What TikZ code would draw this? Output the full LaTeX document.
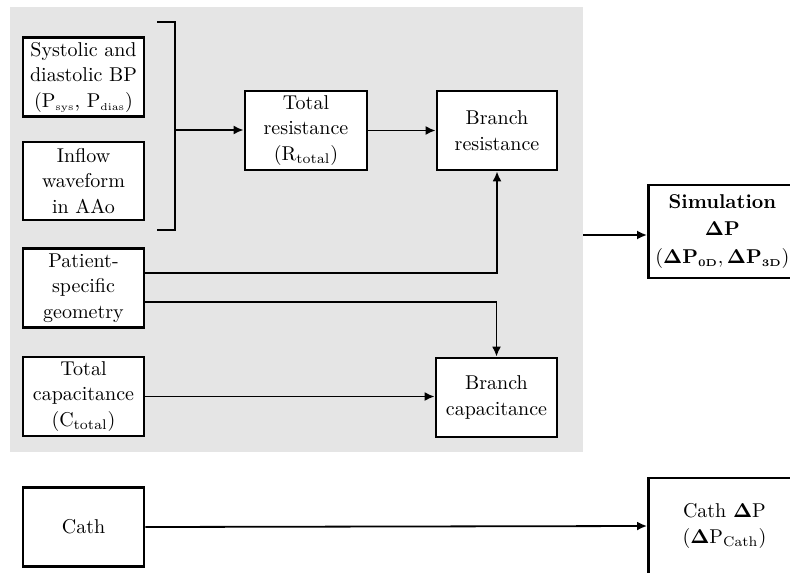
\documentclass[tikz,border=0pt]{standalone}
\usetikzlibrary{arrows.meta,calc}
\definecolor{bggray}{RGB}{229,229,229}
\begin{document}
\begin{tikzpicture}[x=0.5pt,y=-0.5pt,
  blk/.style={draw, line width=1.4pt, fill=white, align=center, inner sep=1pt,
    minimum width=60.5pt, minimum height=39.5pt, font=\fontsize{10pt}{12.75pt}\selectfont},
  conn/.style={line width=0.9pt, -{Latex[length=5pt,width=4.5pt]}},
  plain/.style={line width=0.9pt}]
\clip (0,0) rectangle (790,572);
\fill[bggray] (10,7) rectangle (583,452);
\node[blk] (sys) at (83.5,77) {Systolic and\\diastolic BP\\($\mathrm{P}_{\scriptscriptstyle\mathrm{sys}}$, $\mathrm{P}_{\scriptscriptstyle\mathrm{dias}}$)};
\node[blk, minimum height=39pt] (inflow) at (83.5,181) {Inflow\\waveform\\in AAo};
\node[blk] (patient) at (83.5,288) {Patient-\\specific\\geometry};
\node[blk] (tcap) at (83.5,396.5) {Total\\capacitance\\($\mathrm{C}_{\mathrm{total}}$)};
\node[blk] (cath) at (83.5,527) {Cath};
\node[blk, minimum width=61pt] (tres) at (306,130.5) {Total\\resistance\\($\mathrm{R}_{\mathrm{total}}$)};
\node[blk, minimum width=60pt] (bres) at (497,130.5) {Branch\\resistance};
\node[blk] (bcap) at (496.5,397.5) {Branch\\capacitance};
\node[blk, minimum width=74pt, minimum height=46.5pt, anchor=west,
  font=\fontsize{10pt}{13.75pt}\selectfont] (sim) at (647,231.5)
  {\textbf{Simulation}\\$\mathbf{\Delta P}$\\$(\mathbf{\Delta P}_{\scriptscriptstyle\mathbf{0D}}{,}\,\mathbf{\Delta P}_{\scriptscriptstyle\mathbf{3D}})$};
\node[blk, minimum width=76pt, minimum height=48pt, anchor=west] (cathdp) at (647,526)
  {Cath $\mathbf{\Delta}\mathrm{P}$\\($\mathbf{\Delta}\mathrm{P}_{\mathrm{Cath}}$)};
% bracket
\coordinate (bt) at (157,22);
\coordinate (bb) at (157,230);
\coordinate (bm) at (175,130);
\draw[line width=1.2pt] (bt) -- (175,22) -- (175,230) -- (bb);
\draw[conn] (bm) -- (bm -| tres.west);
\draw[conn] (tres.east) -- (bres.west);
\draw[conn] ($(patient.east)+(0,-15)$) -| (bres.south);
\draw[conn] ($(patient.east)+(0,14)$) -| (bcap.north);
\draw[conn] (tcap.east) -- (tcap.east -| bcap.west);
\coordinate (simin) at (583,235);
\draw[conn] (simin) -- (simin -| sim.west);
\draw[conn] (cath.east) -- (cathdp.west);
\end{tikzpicture}
\end{document}
